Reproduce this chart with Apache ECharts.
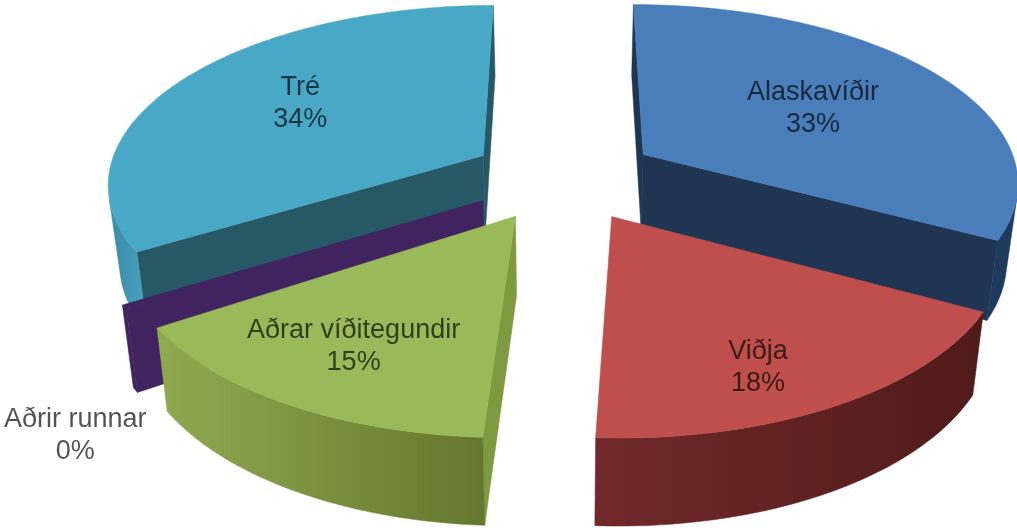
<!DOCTYPE html>
<html>
<head>
<meta charset="utf-8">
<script src="https://cdn.jsdelivr.net/npm/echarts@6/dist/echarts.min.js"></script>
<style>html,body{margin:0;padding:0;background:#fff}#c{width:1017px;height:528px}</style>
</head>
<body>
<div id="c"></div>
<script>
const categories = ['Alaskavíðir', 'Viðja', 'Aðrar víðitegundir', 'Aðrir runnar', 'Tré'];
const shares = [32.8, 18.05, 15, 0.4, 33.75];

const topColors = ['#4a7ebb', '#be4f4c', '#9aba59', '#41235f', '#48a8c5'];
const radialColors = ['#1f3552', '#6a2a2a', '#7d9a40', '#41235f', '#265866'];
const outerColors = [
  ['#1f3a5f', '#1f3a5f'],
  ['#72292a', '#4f1b19'],
  ['#90aa50', '#64772e'],
  ['#41235f', '#41235f'],
  ['#3a8ba6', '#47a3bf']
];
const labelReach = [0.53, 0.77, 0.78, 1.21, 0.53];
const labelNudge = [[11, -1], [-22, 10], [12, -11], [34, 104], [-21, -9]];
const drawOrder = [0, 4, 3, 1, 2];

const view = { cx: 564, horizon: -1063.8, persp: 8684, dist: 7, spread: 2633, explode: 0.25, sinkY: -1730, sinkV: 0.0406, sinkH: 0.025 };

function project(X, Y, down) {
  const x = view.cx + view.spread * X / (view.dist + Y);
  const y = view.horizon + view.persp / (view.dist + Y);
  if (!down) return [x, y];
  return [x + (view.cx - x) * view.sinkH, y + (y - view.sinkY) * view.sinkV];
}
const total = shares.reduce((a, b) => a + b, 0);
let run = 0;
const wedges = shares.map(v => {
  const a0 = run / total * Math.PI * 2;
  run += v;
  return { a0, a1: run / total * Math.PI * 2 };
});
function area(p) {
  let s = 0;
  for (let i = 0; i < p.length; i++) {
    const q = p[(i + 1) % p.length];
    s += p[i][0] * q[1] - q[0] * p[i][1];
  }
  return s / 2;
}
function poly(points, fill, z2) {
  return { type: 'polygon', shape: { points }, z2, style: { fill, stroke: fill, lineWidth: 0.5 } };
}
function renderItem(params, api) {
  const i = api.value(0);
  const base = params.dataIndex * 10;
  const w = wedges[i];
  const mid = (w.a0 + w.a1) / 2;
  const ox = view.explode * Math.sin(mid), oy = view.explode * Math.cos(mid);
  const at = (r, a, d) => project(ox + r * Math.sin(a), oy + r * Math.cos(a), d);
  const steps = Math.max(2, Math.ceil((w.a1 - w.a0) * 40));
  const topArc = [], botArc = [];
  for (let k = 0; k <= steps; k++) {
    const a = w.a0 + (w.a1 - w.a0) * k / steps;
    topArc.push(at(1, a, false));
    botArc.push(at(1, a, true));
  }
  const c0 = at(0, 0, false), c1 = at(0, 0, true);
  const children = [];
  // radial walls: keep those whose screen winding faces the viewer
  const wallA = [c0, topArc[0], botArc[0], c1];
  const wallB = [c0, c1, botArc[steps], topArc[steps]];
  if (area(wallA) < 0) children.push(poly(wallA, radialColors[i], base + 1));
  if (area(wallB) < 0) children.push(poly(wallB, radialColors[i], base + 1));
  // outer rim: only the stretch of arc that faces the viewer
  const topVis = [], botVis = [];
  for (let k = 0; k < steps; k++) {
    const quad = [topArc[k], botArc[k], botArc[k + 1], topArc[k + 1]];
    if (area(quad) > 0) {
      if (!topVis.length) { topVis.push(topArc[k]); botVis.push(botArc[k]); }
      topVis.push(topArc[k + 1]); botVis.push(botArc[k + 1]);
    }
  }
  if (topVis.length) {
    children.push(poly(topVis.concat(botVis.slice().reverse()), new echarts.graphic.LinearGradient(0, 0, 1, 0, [
      { offset: 0, color: outerColors[i][0] }, { offset: 1, color: outerColors[i][1] }
    ]), base + 2));
  }
  // top face
  children.push(poly([c0].concat(topArc), topColors[i], base + 3));
  // label
  const lp = at(labelReach[i], mid, false);
  children.push({
    type: 'text', z2: 1000,
    style: {
      x: lp[0] + labelNudge[i][0], y: lp[1] + labelNudge[i][1],
      text: categories[i] + '\n' + Math.round(shares[i] / total * 100) + '%',
      font: '27px "Liberation Sans", Arial, sans-serif',
      lineHeight: 32, fill: 'rgba(0,0,0,0.68)', align: 'center', verticalAlign: 'middle'
    }
  });
  return { type: 'group', children };
}
const chart = echarts.init(document.getElementById('c'), null, { renderer: 'canvas' });
chart.setOption({
  animation: false,
  backgroundColor: '#fff',
  series: [{
    type: 'custom',
    coordinateSystem: 'none',
    renderItem,
    clip: false,
    data: drawOrder.map(i => ({ name: categories[i], value: [i, shares[i]] }))
  }]
});
</script>
</body>
</html>
